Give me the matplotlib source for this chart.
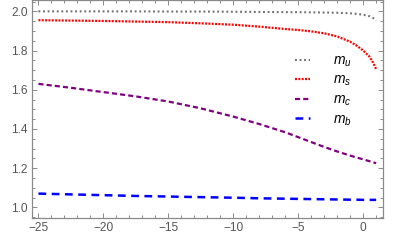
import matplotlib
matplotlib.use('Agg')
import matplotlib.pyplot as plt

plt.rcParams['font.family'] = ['Liberation Sans', 'DejaVu Sans']
plt.rcParams['mathtext.fontset'] = 'custom'
plt.rcParams['mathtext.it'] = 'Liberation Sans:italic'
plt.rcParams['mathtext.rm'] = 'Liberation Sans'

# values
x = [-25, -22.5, -20, -17.5, -15, -12.5, -10, -8, -6, -5, -4, -3, -2, -1, -0.5, 0, 0.5, 0.75, 1]
m_u = [2.000, 2.000, 2.000, 2.000, 1.999, 1.999, 1.998, 1.997, 1.996, 1.996, 1.995, 1.994,
       1.993, 1.990, 1.987, 1.983, 1.975, 1.967, 1.953]
m_s = [1.955, 1.953, 1.951, 1.948, 1.945, 1.939, 1.932, 1.922, 1.910, 1.905, 1.898, 1.888,
       1.872, 1.845, 1.825, 1.800, 1.768, 1.740, 1.705]
m_c = [1.630, 1.610, 1.588, 1.566, 1.540, 1.505, 1.463, 1.425, 1.383, 1.358, 1.333, 1.308,
       1.285, 1.264, 1.254, 1.245, 1.235, 1.230, 1.225]
m_b = [1.070, 1.066, 1.062, 1.058, 1.055, 1.052, 1.049, 1.046, 1.044, 1.043, 1.042, 1.041,
       1.040, 1.039, 1.039, 1.038, 1.038, 1.038, 1.038]
labels = ['$m_u$', '$m_s$', '$m_c$', '$m_b$']

frame_col = '#8a8a8a'
text_col = '#555555'

fig = plt.figure(figsize=(4.15, 2.48), dpi=100)
ax = fig.add_axes([31.7 / 415, 30 / 248, (383.3 - 31.7) / 415, 218 / 248])

ax.plot(x, m_u, color='#707070', lw=1.5, dashes=(0.9, 1.3), label=labels[0])
ax.plot(x, m_s, color='#ff0000', lw=1.6, dashes=(0.9, 0.6), label=labels[1])
ax.plot(x, m_c, color='#800080', lw=1.6, dashes=(2.3, 1.4), label=labels[2])
ax.plot(x, m_b, color='#0000ff', lw=1.8, dashes=(3.1, 2.2), label=labels[3])

ax.set_xlim(-25.52, 1.55)
ax.set_ylim(0.9455, 2.058)
ax.set_xticks([-25, -20, -15, -10, -5, 0])
ax.set_yticks([1.0, 1.2, 1.4, 1.6, 1.8, 2.0])
ax.set_xticks(range(-25, 2), minor=True)
ax.set_yticks([0.95 + 0.05 * i for i in range(23)], minor=True)

for s in ax.spines.values():
    s.set_color(frame_col)
    s.set_linewidth(0.9)
ax.tick_params(which='both', direction='in', top=True, right=True,
               color=frame_col, width=0.7, labelcolor=text_col, labelsize=8.6)
ax.tick_params(which='major', length=3.5, pad=3)
ax.tick_params(which='minor', length=2)

ax.legend(loc='upper left', bbox_to_anchor=(0.749, 0.755), frameon=False,
          borderaxespad=0, borderpad=0, handlelength=1.1, handletextpad=1.6,
          labelspacing=0.3, fontsize=10)

fig.savefig('out.png', dpi=100)
